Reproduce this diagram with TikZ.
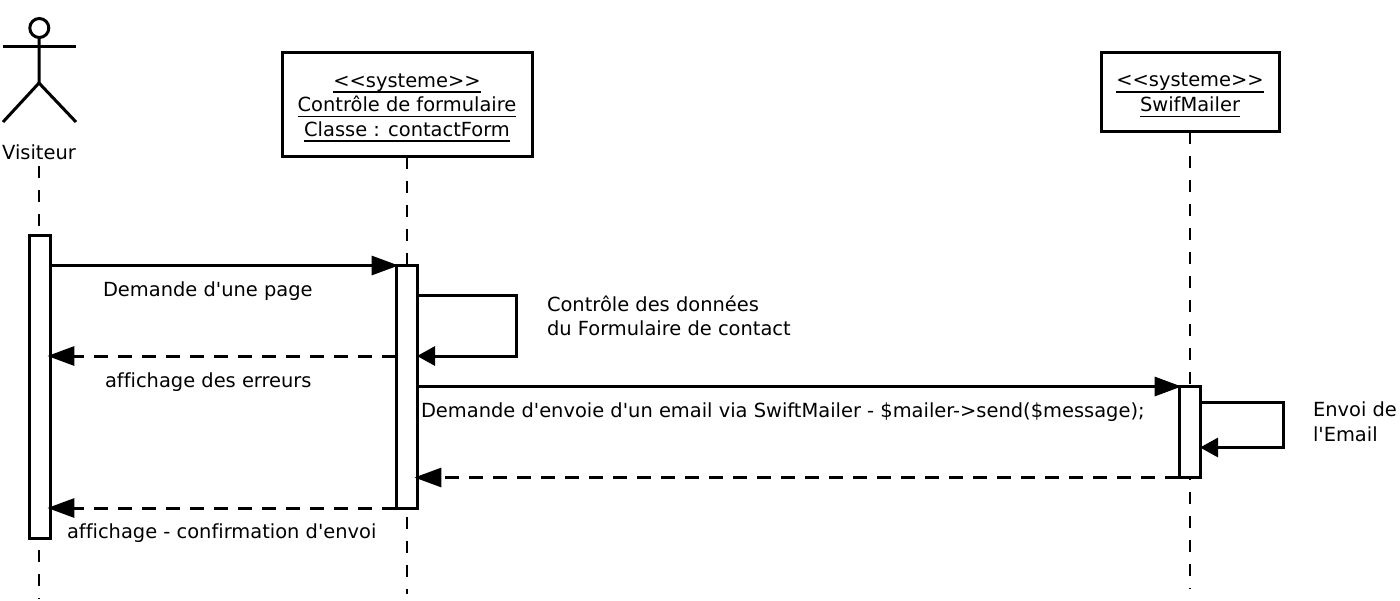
\documentclass[tikz,border=0pt]{standalone}
\usepackage{fontspec}
\font\dvsans="DejaVu Sans:-liga;-clig" at 9.72pt
\newcommand\nodefont{\dvsans\setlength{\baselineskip}{12.25pt}\relax}
\usetikzlibrary{arrows.meta}
\newcommand\ulx[1]{\setbox0=\hbox{#1}\smash{\lower3.6pt\hbox{\rlap{\vrule width\wd0 height -2.1pt depth 2.85pt}\box0}}}
\tikzset{
  x=0.5pt,y=-0.5pt,
  every node/.style={font=\nodefont,text=black,outer sep=0pt},
  objbox/.style={draw,line width=1.5pt,fill=white,align=center,inner sep=0pt,minimum width=#1},
  life/.style={line width=0.75pt,dash pattern=on 6pt off 6pt},
  actbox/.style={draw,line width=1.5pt,fill=white,minimum width=10.5pt,inner sep=0pt},
  msg/.style={line width=1.5pt,shorten >=-1.3pt,-{Triangle[length=13.5pt,width=9.5pt]}},
  ret/.style={msg,dash pattern=on 7pt off 5pt},
  selfmsg/.style={line width=1.5pt,-{Triangle[length=9pt,width=9.5pt]}},
  lbl/.style={anchor=base west,inner sep=0pt,align=left},
  stick/.style={line width=1.5pt}
}
\begin{document}
\begin{tikzpicture}
\useasboundingbox (0,0) rectangle (1400,600);
% actor
\node[draw,circle,line width=1.5pt,minimum size=9.5pt,inner sep=0pt] (head) at (39.3,28) {};
\coordinate (hip) at (39,83);
\coordinate (armL) at (3,46);
\coordinate (armR) at (76,46);
\coordinate (legL) at (3,122);
\coordinate (legR) at (76,122);
\draw[stick] (head) -- (hip);
\draw[stick] (armL) -- (armR);
\draw[stick] (legL) -- (hip) -- (legR);
\node[anchor=base] (visiteur) at (39,159) {Visiteur};
% objects
\node[objbox=125pt,minimum height=52pt] (form) at (407,104.5) {\ulx{<<systeme>>}\\\ulx{Contrôle de formulaire}\\\ulx{Classe : contactForm}};
\node[objbox=89pt,minimum height=39.5pt] (swift) at (1190,92) {\ulx{<<systeme>>}\\\ulx{SwifMailer}};
% lifelines
\coordinate (end1) at (39,599);
\coordinate (end2) at (407,594);
\coordinate (end3) at (1190,589);
\coordinate (start1) at (39,166);
\draw[life] (start1) -- (end1);
\draw[life] (form.south) -- (end2);
\draw[life] (swift.south) -- (end3);
% activations
\node[actbox,minimum height=151.5pt] (a1) at (39.5,386.5) {};
\node[actbox,minimum height=121.5pt] (a2) at (406.5,386.5) {};
\node[actbox,minimum height=45.75pt] (a3) at (1189.5,431.8) {};
% levels
\coordinate (y1) at (0,265.5);
\coordinate (y2) at (0,295.5);
\coordinate (y3) at (0,356);
\coordinate (y4) at (0,386.5);
\coordinate (y5) at (0,402);
\coordinate (y6) at (0,447.5);
\coordinate (y7) at (0,477.5);
\coordinate (y8) at (0,508);
\coordinate (s1) at (516,0);
\coordinate (s2) at (1283,0);
% messages
\draw[msg] (a1.east |- y1) -- (a2.west |- y1);
\draw[selfmsg,line join=miter] (a2.east |- y2) -- (s1 |- y2) -- (s1 |- y3) -- (a2.east |- y3);
\draw[ret] (a2.west |- y3) -- (a1.east |- y3);
\draw[msg] (a2.east |- y4) -- (a3.west |- y4);
\draw[selfmsg,line join=miter] (a3.east |- y5) -- (s2 |- y5) -- (s2 |- y6) -- (a3.east |- y6);
\draw[ret] (a3.west |- y7) -- (a2.east |- y7);
\draw[ret] (a2.west |- y8) -- (a1.east |- y8);
% labels
\node[lbl] (l1) at (103,296) {Demande d'une page};
\node[lbl] (l2) at (547,335.5) {Contrôle des données\\du Formulaire de contact};
\node[lbl] (l3) at (105,387) {affichage des erreurs};
\node[lbl] (l4) at (421,417) {Demande d'envoie d'un email via SwiftMailer - \$mailer->send(\$message);};
\node[lbl] (l5) at (1313,441) {Envoi de\\l'Email};
\node[lbl] (l6) at (67,538) {affichage - confirmation d'envoi};
\end{tikzpicture}
\end{document}
